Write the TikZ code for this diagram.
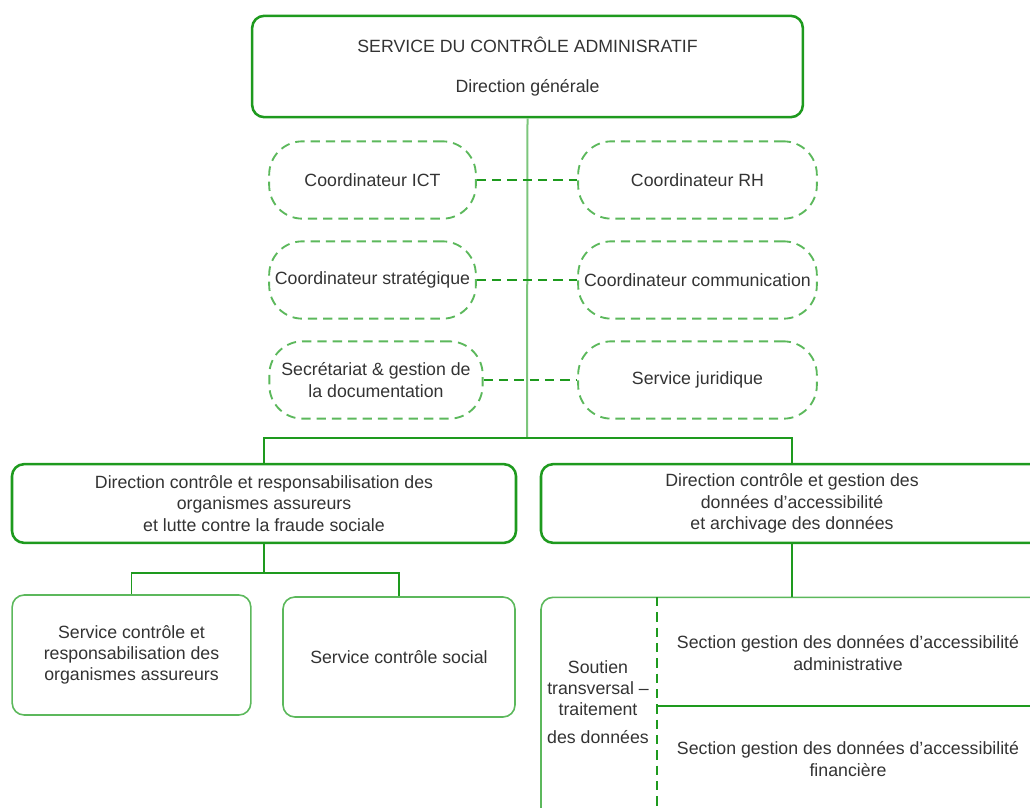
\documentclass[tikz,border=0pt]{standalone}
\usepackage{fontspec}
\setmainfont{Liberation Sans}
\usetikzlibrary{positioning}
\definecolor{vertfonce}{HTML}{1E9A1E}
\definecolor{vertclair}{HTML}{5CB85C}
\definecolor{verttrait}{HTML}{7CC67C}

\begin{document}
\begin{tikzpicture}[x=0.75pt, y=-0.75pt,
    font=\fontsize{13.3}{16}\selectfont, text=black!80,
    direction/.style={draw=vertfonce, line width=1.9pt, rounded corners=9pt, align=center, inner sep=2pt},
    service/.style={draw=vertclair, line width=1.2pt, rounded corners=9pt, align=center, inner sep=2pt},
    staff/.style={draw=vertclair, line width=1.4pt, dash pattern=on 7pt off 4.5pt, rounded corners=25pt, align=center, inner sep=2pt},
    lien/.style={vertfonce, line width=1.1pt},
    tronc/.style={verttrait, line width=1.5pt},
    lienstaff/.style={vertfonce, line width=1.3pt, dash pattern=on 7pt off 4.5pt}]
    \useasboundingbox (0,0) rectangle (1030,807);
    \clip (0,0) rectangle (1030,807);

    % Direction generale
    \node[direction, minimum width=413pt, minimum height=76pt] (chef) at (527.5,66.5)
        {SERVICE DU CONTRÔLE ADMINISRATIF\\[14pt]Direction générale};

    % Staff (left and right)
    \node[staff, minimum width=155pt, minimum height=58pt] (ict) at (372.5,180) {Coordinateur ICT};
    \node[staff, minimum width=155pt, minimum height=58pt] (strat) at (372.5,280) {Coordinateur stratégique};
    \node[staff, minimum width=160pt, minimum height=58pt] (secr) at (376,380) {Secrétariat \& gestion de\\la documentation};
    \node[staff, minimum width=179pt, minimum height=58pt] (rh) at (697.5,180) {Coordinateur RH};
    \node[staff, minimum width=179pt, minimum height=58pt] (comm) at (697.5,280) {Coordinateur communication};
    \node[staff, minimum width=179pt, minimum height=58pt] (jur) at (697.5,380) {Service juridique};

    % Directions
    \node[direction, minimum width=378pt, minimum height=59pt] (dirg) at (264,503.5)
        {Direction contrôle et responsabilisation des\\organismes assureurs\\et lutte contre la fraude sociale};
    \node[direction, minimum width=376.5pt, minimum height=59pt] (dird) at (792,503.5)
        {Direction contrôle et gestion des\\données d'accessibilité\\et archivage des données};

    % Services
    \node[service, minimum width=179pt, minimum height=90pt] (svcorg) at (131.5,655)
        {Service contrôle et\\responsabilisation des\\organismes assureurs};
    \node[service, minimum width=174pt, minimum height=90pt] (svcsoc) at (399,657) {Service contrôle social};
    \node[service, minimum width=376.5pt, minimum height=184pt] (donnees) at (792,720) {};

    % Inside the data box
    \coordinate (sephaut) at (657,597);
    \coordinate (sepbas) at (657,807);
    \coordinate (sepmil) at (657,706);
    \node[align=center] (soutien) at (598,702) {Soutien\\transversal –\\traitement\\[5pt]des données};
    \node[align=center] (secadm) at (848,653) {Section gestion des données d'accessibilité\\administrative};
    \node[align=center] (secfin) at (848,759) {Section gestion des données d'accessibilité\\financière};
    \draw[lienstaff] (sephaut) -- (sepbas);
    \draw[lien] (sepmil) -- (sepmil -| donnees.east);

    % Connectors
    \coordinate (jonction) at (527,438);
    \coordinate (jonctiong) at (264,573);
    \draw[tronc] (chef.south) -- (jonction);
    \draw[lien] (dirg.north) |- (jonction) -| (dird.north);
    \draw[lien] (dirg.south) -- (jonctiong);
    \draw[lien] (svcorg.north) |- (jonctiong) -| (svcsoc.north);
    \draw[lien] (dird.south) -- (donnees.north);
    \draw[lienstaff] (ict.east) -- (rh.west);
    \draw[lienstaff] (strat.east) -- (comm.west);
    \draw[lienstaff] (secr.east) -- (jur.west);
\end{tikzpicture}
\end{document}
